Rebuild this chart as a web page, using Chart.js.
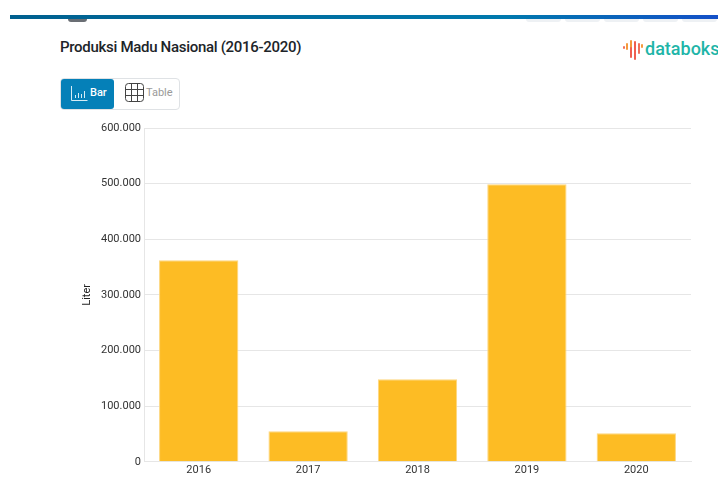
<!DOCTYPE html>
<html>
<head>
<meta charset="utf-8">
<title>Produksi Madu Nasional (2016-2020)</title>
<script src="https://cdn.jsdelivr.net/npm/chart.js@4/dist/chart.umd.min.js"></script>
<style>
    html, body { margin: 0; padding: 0; background: #fff; overflow: hidden; }
    body { position: relative; width: 718px; height: 500px; font-family: Roboto, sans-serif; }
    #topbar { position: absolute; left: 10px; right: 0; top: 15px; height: 4px;
        background: linear-gradient(90deg, #00608f 0%, #0079ad 70%, #1450c8 100%); }
    .tab { position: absolute; top: 19px; height: 3px; width: 35px; background: #eef1f4; border-radius: 0 0 4px 4px; }
    #avatar { position: absolute; left: 68px; top: 19px; width: 19px; height: 3px; background: #6a6e74; border-radius: 0 0 10px 10px; }
    #title { position: absolute; left: 60px; top: 38px; font-size: 15px; line-height: 18px; font-weight: 500; color: #202428; letter-spacing: -0.3px; }
    #logo { position: absolute; left: 622px; top: 38px; height: 24px; }
    #logo span { position: absolute; left: 23px; top: -1px; font-size: 18px; font-weight: 500; color: #1fb5a8; line-height: 24px; }
    #switch { position: absolute; left: 60px; top: 78px; width: 120px; height: 32px; box-sizing: border-box;
        border: 1px solid #dfe2e5; border-radius: 4px; }
    #switch .on { position: absolute; left: 0; top: 0; width: 53px; height: 30px; background: #0580b8; border-radius: 3px; }
    #switch .lbl { position: absolute; top: 6px; font-size: 11px; line-height: 16px; }
    #switch svg { position: absolute; }
    #wrap { position: absolute; left: 70px; top: 118px; width: 630px; height: 372px; }
</style>
</head>
<body>
<div id="topbar"></div>
<div id="avatar"></div>
<div class="tab" style="left:526px"></div>
<div class="tab" style="left:565px"></div>
<div class="tab" style="left:604px"></div>
<div class="tab" style="left:643px"></div>
<div class="tab" style="left:682px"></div>

<div id="title">Produksi Madu Nasional (2016-2020)</div>

<div id="logo">
    <svg width="22" height="24" stroke-width="2" stroke-linecap="round">
        <path d="M2 9v1" stroke="#f0705a"/>
        <path d="M5 6v5" stroke="#f59a3c"/>
        <path d="M9 3v10" stroke="#f59a3c"/>
        <path d="M13 4v17" stroke="#ef5f50"/>
        <path d="M9 10v9" stroke="#ef5f50"/>
        <path d="M17 6v9" stroke="#f0705a"/>
        <path d="M20 7v2" stroke="#f59a3c"/>
    </svg>
    <span>databoks</span>
</div>

<div id="switch">
    <div class="on"></div>
    <svg style="left:9px;top:6px" width="18" height="17" fill="none" stroke="#d5ecf6" stroke-width="1">
        <path d="M1.5 1v14.5h16"/>
        <path d="M5.5 13v-3M8.5 13v-5M11.5 13v-4M14.5 13v-7"/>
    </svg>
    <div class="lbl" style="left:29px;color:#fff;font-weight:500">Bar</div>
    <svg style="left:64px;top:4px" width="19" height="19" fill="none" stroke="#444" stroke-width="1">
        <rect x="0.5" y="0.5" width="18" height="18" rx="3"/>
        <path d="M6.5 0.5v18M12.5 0.5v18M0.5 6.5h18M0.5 12.5h18"/>
    </svg>
    <div class="lbl" style="left:85px;color:#9a9a9a">Table</div>
</div>

<div id="wrap"><canvas id="madu"></canvas></div>

<script>
    const years = ["2016", "2017", "2018", "2019", "2020"];
    const produksi = [362500, 55000, 148500, 499000, 51500];
    const yTicks = [0, 100000, 200000, 300000, 400000, 500000, 600000];

    // titik sebagai pemisah ribuan
    function ribuan(v) {
        return String(v).replace(/\B(?=(\d{3})+$)/g, ".");
    }

    const context = document.querySelector("#madu").getContext("2d");
    new Chart(context, {
        type: "bar",
        data: {
            labels: years,
            datasets: [
                {
                    label: "Produksi",
                    data: produksi,
                    backgroundColor: "#fdbc24",
                    borderColor: "#fdd77f",
                    borderWidth: 1,
                    barPercentage: 0.725,
                    categoryPercentage: 1,
                },
            ],
        },
        options: {
            responsive: true,
            maintainAspectRatio: false,
            animation: false,
            layout: { padding: { top: 10, right: 9, bottom: 11, left: 11 } },
            plugins: { legend: { display: false }, tooltip: { enabled: false } },
            scales: {
                x: {
                    grid: { display: false, drawTicks: false },
                    border: { color: "#e6e6e6" },
                    ticks: { color: "#333", font: { family: "Roboto", size: 11 }, padding: 2, maxRotation: 0 },
                },
                y: {
                    min: 0,
                    max: 600000,
                    afterBuildTicks(scale) {
                        scale.ticks = yTicks.map((value) => ({ value }));
                    },
                    afterFit(scale) {
                        scale.width = 63;
                    },
                    grid: { color: "#e6e6e6", drawTicks: false },
                    border: { color: "#e6e6e6" },
                    title: {
                        display: true,
                        text: "Liter",
                        color: "#222",
                        font: { family: "Roboto", size: 11 },
                        padding: 0,
                    },
                    ticks: {
                        color: "#333",
                        font: { family: "Roboto", size: 11 },
                        padding: 3,
                        callback: (v) => ribuan(v),
                    },
                },
            },
        },
    });
</script>
</body>
</html>
